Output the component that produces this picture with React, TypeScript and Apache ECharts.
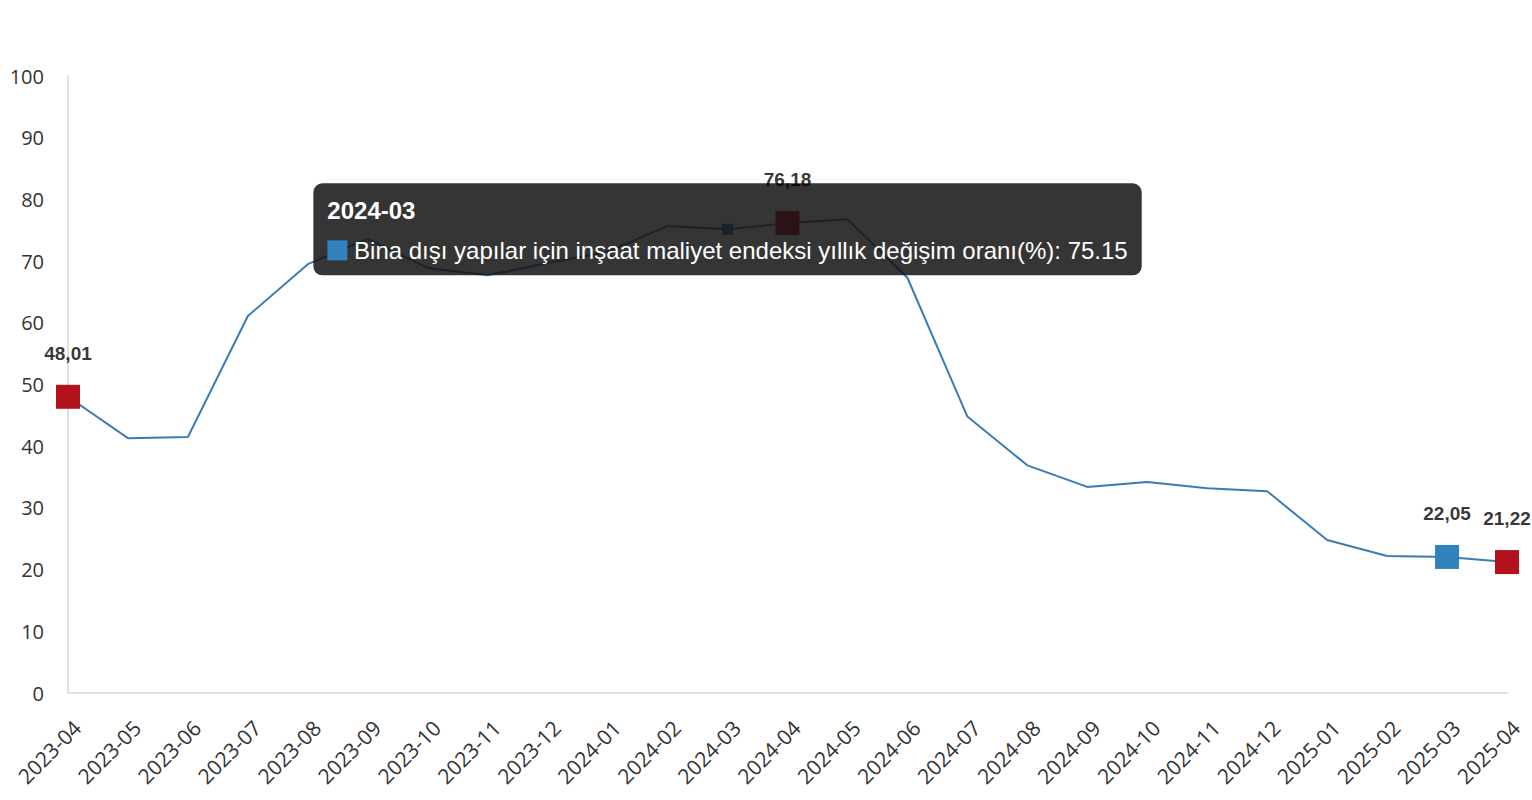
import { useEffect, useRef } from 'react'
import * as echarts from 'echarts'

// aylar ve yıllık değişim oranları (%)
const months = [
  '2023-04', '2023-05', '2023-06', '2023-07', '2023-08', '2023-09', '2023-10',
  '2023-11', '2023-12', '2024-01', '2024-02', '2024-03', '2024-04', '2024-05',
  '2024-06', '2024-07', '2024-08', '2024-09', '2024-10', '2024-11', '2024-12',
  '2025-01', '2025-02', '2025-03', '2025-04',
]
const rates = [
  48.01, 41.3, 41.5, 61.1, 69.5, 73.6, 68.9, 67.7, 69.7, 71.5, 75.7, 75.15,
  76.18, 76.8, 67.3, 44.8, 36.9, 33.4, 34.2, 33.2, 32.7, 24.8, 22.2, 22.05, 21.22,
]
const redMonths = ['2023-04', '2024-04', '2025-04']
const blueMonths = ['2025-03']
const tipMonth = '2024-03'
const seriesName = 'Bina dışı yapılar için inşaat maliyet endeksi yıllık değişim oranı(%)'

const RED = '#b2121c'
const BLUE = '#3182bd'
const LINE = '#3a7cb6'
const AXIS_FONT = '"Open Sans", "Noto Sans", sans-serif'
const TIP_FONT = '"Liberation Sans", Arial, sans-serif'

export default function App() {
  const chartRef = useRef<HTMLDivElement>(null)

  useEffect(() => {
    if (!chartRef.current) return
    const chart = echarts.init(chartRef.current, undefined, { renderer: 'svg' })

    const marked = (m: string) => redMonths.includes(m) || blueMonths.includes(m)

    const lineData = months.map((m, i) => {
      if (marked(m)) {
        return {
          value: rates[i],
          symbol: 'rect',
          symbolSize: 24,
          itemStyle: { color: redMonths.includes(m) ? RED : BLUE },
        }
      }
      if (m === tipMonth) {
        return { value: rates[i], symbol: 'rect', symbolSize: 11, itemStyle: { color: LINE } }
      }
      return { value: rates[i], symbol: 'none' }
    })

    // etiketler ayrı seride: tooltip kutusunun üstünde kalsın
    const labelData = months.map((m, i) => (marked(m) ? rates[i] : '-'))

    const option: any = {
      animation: false,
      backgroundColor: '#fff',
      grid: { left: 68, right: 25, top: 76, bottom: 107, outerBoundsMode: 'none' },
      xAxis: {
        type: 'category',
        data: months,
        boundaryGap: false,
        axisLine: { lineStyle: { color: '#e0e0e0', width: 2 } },
        axisTick: { show: false },
        axisLabel: {
          interval: 0,
          rotate: 45,
          margin: 22,
          verticalAlign: 'top',
          lineHeight: 26,
          color: '#333',
          fontSize: 21,
          fontFamily: AXIS_FONT,
        },
      },
      yAxis: {
        type: 'value',
        min: 0,
        max: 100,
        interval: 10,
        axisLine: { show: true, lineStyle: { color: '#e0e0e0', width: 2 } },
        axisTick: { show: false },
        splitLine: { show: false },
        axisLabel: { margin: 24, color: '#333', fontSize: 20, fontFamily: AXIS_FONT },
      },
      series: [
        {
          name: seriesName,
          type: 'line',
          data: lineData,
          symbol: 'none',
          showSymbol: true,
          showAllSymbol: true,
          silent: true,
          z: 2,
          lineStyle: { color: LINE, width: 2 },
          itemStyle: { color: LINE, borderWidth: 0 },
          emphasis: { disabled: true },
        },
        {
          type: 'scatter',
          data: labelData,
          symbol: 'rect',
          symbolSize: 24,
          silent: true,
          z: 10,
          itemStyle: { color: 'rgba(0,0,0,0)' },
          label: {
            show: true,
            position: 'top',
            distance: 22,
            color: '#000',
            fontSize: 19,
            fontWeight: 'bold',
            fontFamily: TIP_FONT,
            formatter: (p: any) => {
              const v = typeof p.value === 'number' ? p.value : Number(p.data)
              return v.toFixed(2).replace('.', ',')
            },
          },
        },
      ],
    }

    chart.setOption(option, true)

    // tooltip kutusu, noktanın ortasına
    const tipIdx = months.indexOf(tipMonth)
    const pt = chart.convertToPixel({ seriesIndex: 0 }, [tipIdx, rates[tipIdx]]) as number[]
    chart.setOption({
      graphic: [
        {
          type: 'text',
          x: pt[0],
          y: pt[1],
          z: 5,
          silent: true,
          style: {
            text: `{h|${tipMonth}}\n{m|}{t| ${seriesName}: ${rates[tipIdx]}}`,
            align: 'center',
            verticalAlign: 'middle',
            backgroundColor: 'rgba(20,20,20,0.86)',
            borderRadius: 9,
            padding: [5, 14, 7, 14],
            rich: {
              h: {
                align: 'left',
                fill: '#fff',
                fontFamily: TIP_FONT,
                fontSize: 24,
                fontWeight: 'bold',
                lineHeight: 44,
              },
              m: { align: 'left', width: 20, height: 20, backgroundColor: BLUE },
              t: {
                align: 'left',
                fill: '#fff',
                fontFamily: TIP_FONT,
                fontSize: 24,
                lineHeight: 36,
              },
            },
          },
        },
      ],
    })

    return () => {
      chart.dispose()
    }
  }, [])

  return (
    <div
      ref={chartRef}
      style={{ position: 'fixed', left: 0, top: 0, width: 1532, height: 800 }}
    />
  )
}
